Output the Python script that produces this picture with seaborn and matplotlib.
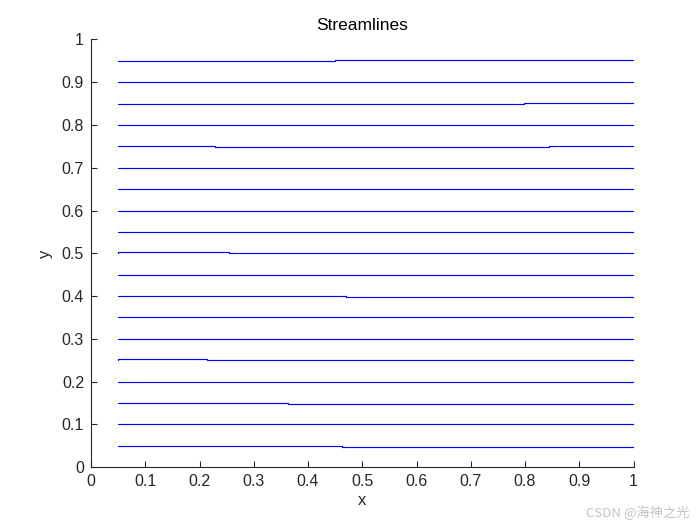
import pandas as pd
import matplotlib
matplotlib.use("Agg")
import matplotlib.pyplot as plt
import seaborn as sns

# streamline vertices (seeds at x = 0.05)
line_x = [
    [0.05, 0.462, 0.462, 1.0],                 # 0.05
    [0.05, 1.0],                               # 0.10
    [0.05, 0.364, 0.364, 1.0],                 # 0.15
    [0.05, 1.0],                               # 0.20
    [0.05, 0.05, 0.213, 0.213, 1.0],           # 0.25
    [0.05, 1.0],                               # 0.30
    [0.05, 1.0],                               # 0.35
    [0.05, 0.470, 0.470, 1.0],                 # 0.40
    [0.05, 1.0],                               # 0.45
    [0.05, 0.05, 0.255, 0.255, 1.0],           # 0.50
    [0.05, 1.0],                               # 0.55
    [0.05, 1.0],                               # 0.60
    [0.05, 1.0],                               # 0.65
    [0.05, 1.0],                               # 0.70
    [0.05, 0.229, 0.229, 0.845, 0.845, 1.0],   # 0.75
    [0.05, 1.0],                               # 0.80
    [0.05, 0.799, 0.799, 1.0],                 # 0.85
    [0.05, 1.0],                               # 0.90
    [0.05, 0.450, 0.450, 1.0],                 # 0.95
]
line_y = [
    [0.05, 0.05, 0.048, 0.048],
    [0.10, 0.10],
    [0.15, 0.15, 0.148, 0.148],
    [0.20, 0.20],
    [0.25, 0.252, 0.252, 0.25, 0.25],
    [0.30, 0.30],
    [0.35, 0.35],
    [0.40, 0.40, 0.398, 0.398],
    [0.45, 0.45],
    [0.50, 0.502, 0.502, 0.50, 0.50],
    [0.55, 0.55],
    [0.60, 0.60],
    [0.65, 0.65],
    [0.70, 0.70],
    [0.75, 0.75, 0.748, 0.748, 0.75, 0.75],
    [0.80, 0.80],
    [0.85, 0.85, 0.852, 0.852],
    [0.90, 0.90],
    [0.95, 0.95, 0.952, 0.952],
]

rows = []
for i, (xs, ys) in enumerate(zip(line_x, line_y)):
    for k, (xv, yv) in enumerate(zip(xs, ys)):
        rows.append({"line": i, "order": k, "x": xv, "y": yv})
df = pd.DataFrame(rows)

sns.set_style("ticks")
plt.rcParams["font.family"] = ["Liberation Sans", "DejaVu Sans"]
plt.rcParams["xtick.direction"] = "in"
plt.rcParams["ytick.direction"] = "in"
axis_grey = (0.15, 0.15, 0.15)

fig = plt.figure(figsize=(7, 5.25), dpi=100)
ax = fig.add_axes([0.13, 0.11, 0.775, 0.815])

sns.lineplot(data=df, x="x", y="y", units="line", estimator=None, sort=False,
             color="blue", linewidth=0.85, ax=ax)

ax.set_xlim(0, 1)
ax.set_ylim(0, 1)
ticks = [0, 0.1, 0.2, 0.3, 0.4, 0.5, 0.6, 0.7, 0.8, 0.9, 1]
tick_labels = ["0", "0.1", "0.2", "0.3", "0.4", "0.5", "0.6", "0.7", "0.8", "0.9", "1"]
ax.set_xticks(ticks)
ax.set_xticklabels(tick_labels)
ax.set_yticks(ticks)
ax.set_yticklabels(tick_labels)
ax.tick_params(length=4, width=0.8, color=axis_grey, labelcolor=axis_grey,
               labelsize=11.5, pad=5)

sns.despine(ax=ax)
for side in ["left", "bottom"]:
    ax.spines[side].set_color(axis_grey)
    ax.spines[side].set_linewidth(0.8)

ax.set_xlabel("x", fontsize=12, color=axis_grey, labelpad=3)
ax.set_ylabel("y", fontsize=12, color=axis_grey, labelpad=6)
ax.set_title("Streamlines", fontsize=12.5, color="black", pad=7)

fig.text(0.985, 0.024, "CSDN @海神之光", ha="right", va="center", fontsize=9.5,
         color="#c4c4c4", family=["Noto Sans CJK SC", "DejaVu Sans"])

fig.savefig("out.png", dpi=100)
plt.close(fig)
